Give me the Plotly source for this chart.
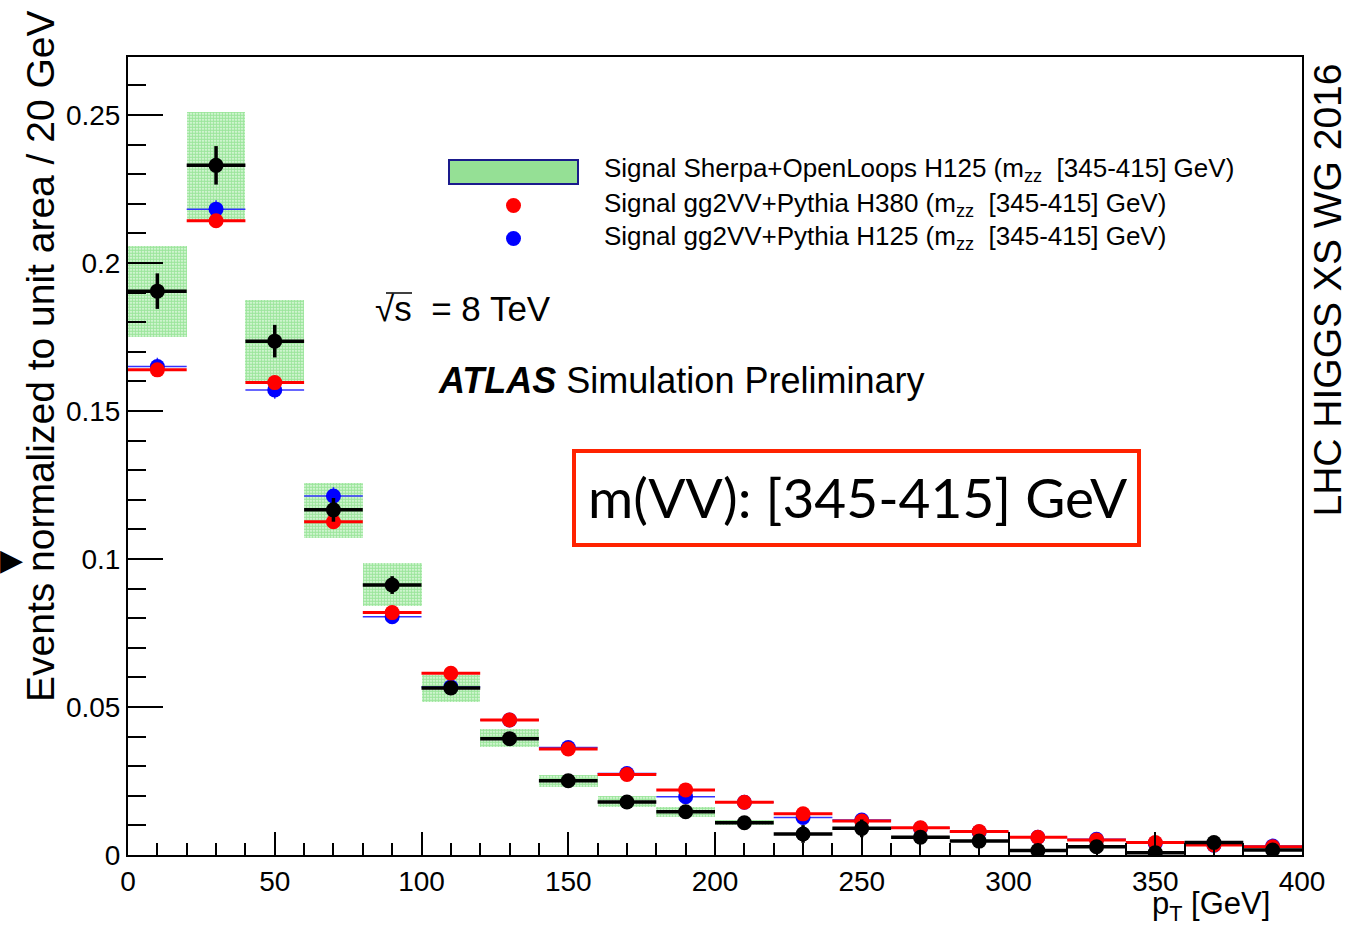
import plotly.graph_objects as go

# ---------------- data ----------------
bin_centers = [10, 30, 50, 70, 90, 110, 130, 150, 170, 190,
               210, 230, 250, 270, 290, 310, 330, 350, 370, 390]
bin_halfwidth = [10] * 20

sherpa_h125 = [0.1905, 0.233, 0.1736, 0.1166, 0.0912, 0.0564, 0.0393, 0.0251, 0.0179, 0.0146,
               0.0109, 0.0071, 0.0090, 0.0060, 0.0047, 0.0015, 0.0028, 0.0008, 0.0042, 0.0017]
sherpa_err = [0.006, 0.0065, 0.0055, 0.0040, 0.0030, 0.0020, 0.0015, 0.0010, 0.0008, 0.0008,
              0.0006, 0.0030, 0.0030, 0.0006, 0.0006, 0.0005, 0.0005, 0.0005, 0.0005, 0.0005]
band_low = [0.1750, 0.2140, 0.1598, 0.1071, 0.0841, 0.0517, 0.0365, 0.0230, 0.0162, 0.0128,
            0.0101, 0.0066, 0.0085, 0.0056, 0.0043, 0.0012, 0.0025, 0.0006, 0.0039, 0.0014]
band_high = [0.2057, 0.2510, 0.1875, 0.1257, 0.0986, 0.0608, 0.0426, 0.0270, 0.0198, 0.0162,
             0.0117, 0.0076, 0.0095, 0.0064, 0.0051, 0.0018, 0.0031, 0.0010, 0.0045, 0.0020]

gg2vv_h380 = [0.1639, 0.2143, 0.1596, 0.1126, 0.0819, 0.0614, 0.0456, 0.0358, 0.0272, 0.0220,
              0.0178, 0.0139, 0.0115, 0.0092, 0.0079, 0.0060, 0.0051, 0.0042, 0.0034, 0.0028]
gg2vv_h380_err = [0.002, 0.002, 0.0015, 0.0015, 0.001, 0.001, 0.0008, 0.0006, 0.0005, 0.0005,
                  0.0004, 0.0004, 0.0003, 0.0003, 0.0003, 0.0003, 0.0002, 0.0002, 0.0002, 0.0002]
gg2vv_h125 = [0.1650, 0.2182, 0.1571, 0.1213, 0.0805, 0.0568, 0.0456, 0.0363, 0.0275, 0.0197,
              0.0178, 0.0127, 0.0118, 0.0090, 0.0078, 0.0060, 0.0053, 0.0040, 0.0033, 0.0030]
gg2vv_h125_err = [0.003, 0.003, 0.003, 0.003, 0.002, 0.0015, 0.001, 0.0008, 0.0006, 0.0005,
                  0.0004, 0.0004, 0.0003, 0.0003, 0.0003, 0.0003, 0.0002, 0.0002, 0.0002, 0.0002]

x_tick_vals = [0, 50, 100, 150, 200, 250, 300, 350, 400]
x_tick_text = ["0", "50", "100", "150", "200", "250", "300", "350", "400"]
y_tick_vals = [0, 0.05, 0.1, 0.15, 0.2, 0.25]
y_tick_text = ["0", "0.05", "0.1", "0.15", "0.2", "0.25"]

legend_labels = [
    "Signal Sherpa+OpenLoops H125 (m<sub>zz</sub>  [345-415] GeV)",
    "Signal gg2VV+Pythia H380 (m<sub>zz</sub>  [345-415] GeV)",
    "Signal gg2VV+Pythia H125 (m<sub>zz</sub>  [345-415] GeV)",
]

# ---------------- layout geometry ----------------
W, H = 1353, 927
L, R, T, B = 128, 1302, 57, 855


def px(x):
    return (x - L) / (R - L)


def py(y):
    return (B - y) / (B - T)


FONT = "Liberation Sans, Arial, Helvetica, sans-serif"

fig = go.Figure()

# band (Sherpa uncertainty)
fig.add_trace(go.Bar(
    x=bin_centers,
    y=[h - l for h, l in zip(band_high, band_low)],
    base=band_low,
    width=20,
    marker=dict(color="white", line=dict(width=0),
                pattern=dict(shape=".", fgcolor="#44cc44", bgcolor="#f4fff4",
                             size=3, solidity=0.75)),
    showlegend=False, hoverinfo="skip",
))

# gg2VV H125 (blue)
fig.add_trace(go.Scatter(
    x=bin_centers, y=gg2vv_h125, mode="markers",
    marker=dict(color="#0000ff", size=15),
    error_x=dict(type="data", array=bin_halfwidth, color="#3333ff", thickness=1.5, width=0),
    error_y=dict(type="data", array=gg2vv_h125_err, color="#3333ff", thickness=1.5, width=0),
    showlegend=False,
))

# gg2VV H380 (red)
fig.add_trace(go.Scatter(
    x=bin_centers, y=gg2vv_h380, mode="markers",
    marker=dict(color="#ff0000", size=15),
    error_x=dict(type="data", array=bin_halfwidth, color="#ff0000", thickness=3, width=0),
    error_y=dict(type="data", array=gg2vv_h380_err, color="#ff0000", thickness=3, width=0),
    showlegend=False,
))

# Sherpa H125 (black)
fig.add_trace(go.Scatter(
    x=bin_centers, y=sherpa_h125, mode="markers",
    marker=dict(color="black", size=15),
    error_x=dict(type="data", array=bin_halfwidth, color="black", thickness=3.5, width=0),
    error_y=dict(type="data", array=sherpa_err, color="black", thickness=3.5, width=0),
    showlegend=False,
))

axis_common = dict(showgrid=False, zeroline=False, showline=True, linecolor="black",
                   linewidth=2, mirror=True, ticks="inside", tickcolor="black",
                   tickwidth=2, tickfont=dict(family=FONT, size=28, color="black"))

fig.update_layout(
    width=W, height=H,
    margin=dict(l=L, r=W - R, t=T, b=H - B, pad=0),
    paper_bgcolor="white", plot_bgcolor="white",
    bargap=0,
    xaxis=dict(range=[0, 400], tickvals=x_tick_vals, ticktext=x_tick_text, ticklen=23,
               minor=dict(ticks="inside", dtick=10, ticklen=12, tickwidth=2, tickcolor="black"),
               **axis_common),
    yaxis=dict(range=[0, 0.2696], tickvals=y_tick_vals, ticktext=y_tick_text, ticklen=35,
               minor=dict(ticks="inside", dtick=0.01, ticklen=18, tickwidth=2, tickcolor="black"),
               **axis_common),
)

ann = []
shapes = []

# axis titles
ann.append(dict(text="Events normalized to unit area / 20 GeV", textangle=-90,
                xref="paper", yref="paper", x=px(40), y=py(8), xanchor="center", yanchor="top",
                showarrow=False, font=dict(family=FONT, size=39, color="black")))
ann.append(dict(text="p<sub>T</sub> [GeV]", xref="paper", yref="paper", x=px(1272), y=py(906),
                xanchor="right", yanchor="middle", showarrow=False,
                font=dict(family=FONT, size=31, color="black")))
ann.append(dict(text="LHC HIGGS XS WG 2016", textangle=-90, xref="paper", yref="paper",
                x=px(1327), y=py(62), xanchor="center", yanchor="top", showarrow=False,
                font=dict(family=FONT, size=39, color="black")))
ann.append(dict(text="▶", xref="paper", yref="paper", x=px(-2), y=py(559), xanchor="left",
                yanchor="middle", showarrow=False, font=dict(family="DejaVu Sans", size=30, color="black")))

# legend
legend_rows_y = [169, 204, 237]
shapes.append(dict(type="rect", xref="paper", yref="paper", x0=px(449), x1=px(578),
                   y0=py(184), y1=py(160), fillcolor="#95e095", line=dict(color="#1a1a8c", width=2)))
shapes.append(dict(type="circle", xref="paper", yref="paper", x0=px(506), x1=px(521),
                   y0=py(213), y1=py(198), fillcolor="#ff0000", line=dict(width=0)))
shapes.append(dict(type="circle", xref="paper", yref="paper", x0=px(506), x1=px(521),
                   y0=py(246), y1=py(231), fillcolor="#0000ff", line=dict(width=0)))
for lab, yy in zip(legend_labels, legend_rows_y):
    ann.append(dict(text=lab, xref="paper", yref="paper", x=px(602), y=py(yy), xanchor="left",
                    yanchor="middle", showarrow=False, font=dict(family=FONT, size=26, color="black")))

# sqrt(s)
ann.append(dict(text="√s  = 8 TeV", xref="paper", yref="paper", x=px(373), y=py(308),
                xanchor="left", yanchor="middle", showarrow=False,
                font=dict(family=FONT, size=35, color="black")))
shapes.append(dict(type="line", xref="paper", yref="paper", x0=px(386), x1=px(412),
                   y0=py(293), y1=py(293), line=dict(color="black", width=1.5)))

# ATLAS label
ann.append(dict(text="<b><i>ATLAS</i></b> Simulation Preliminary", xref="paper", yref="paper",
                x=px(436), y=py(380), xanchor="left", yanchor="middle", showarrow=False,
                font=dict(family=FONT, size=36, color="black")))

# red box
shapes.append(dict(type="rect", xref="paper", yref="paper", x0=px(574), x1=px(1139),
                   y0=py(545), y1=py(451), fillcolor="white", line=dict(color="#ff2200", width=4)))
ann.append(dict(text="m(VV): [345-415] GeV", xref="paper", yref="paper", x=px(858), y=py(497),
                xanchor="center", yanchor="middle", showarrow=False,
                font=dict(family="Lato, sans-serif", size=55, color="black")))

fig.update_layout(annotations=ann, shapes=shapes)

fig.write_html("out.html")
